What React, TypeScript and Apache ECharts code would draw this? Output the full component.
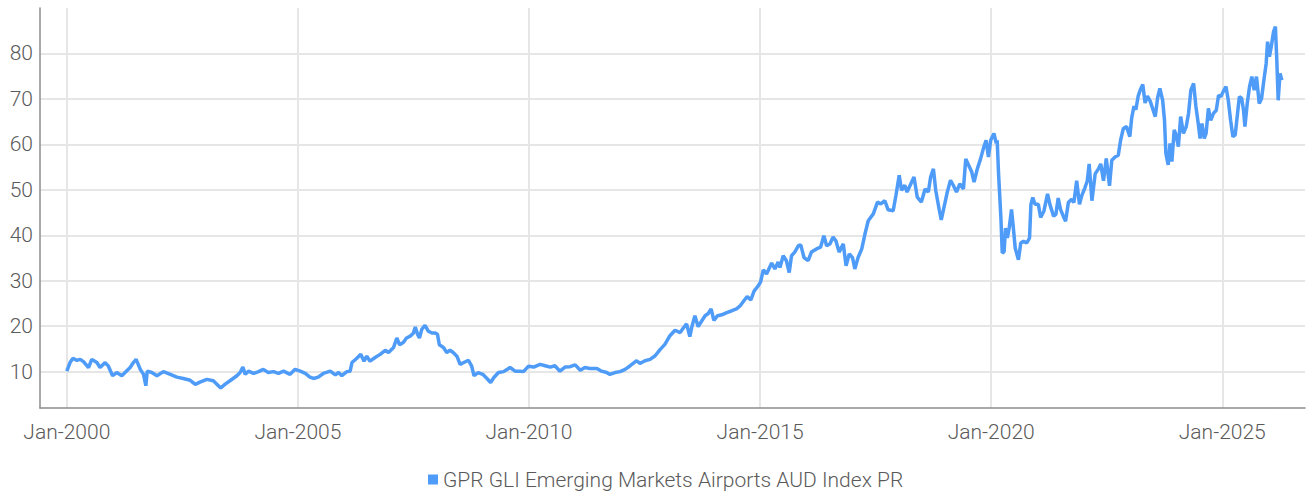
import { useEffect, useRef } from "react";
import * as echarts from "echarts";

const seriesName = "GPR GLI Emerging Markets Airports AUD Index PR";
const xTickYears = [2000, 2005, 2010, 2015, 2020, 2025];
const yTickValues = [10, 20, 30, 40, 50, 60, 70, 80];

// [decimal year, index value]
const period2000to2004 = [
  [2000.0, 10.1], [2000.07, 12.0], [2000.13, 12.9], [2000.22, 12.5], [2000.29, 12.7], [2000.36, 12.2],
  [2000.47, 10.9], [2000.54, 12.7], [2000.65, 12.0], [2000.72, 10.9], [2000.83, 12.0], [2000.9, 11.2],
  [2000.99, 9.1], [2001.08, 9.8], [2001.19, 9.1], [2001.26, 9.8], [2001.37, 10.9], [2001.44, 12.0],
  [2001.5, 12.7], [2001.59, 10.5], [2001.66, 9.4], [2001.71, 6.9], [2001.74, 10.1], [2001.84, 9.8],
  [2001.95, 9.1], [2002.09, 10.0], [2002.24, 9.4], [2002.38, 8.8], [2002.52, 8.5], [2002.67, 8.1],
  [2002.78, 7.2], [2002.88, 7.7], [2003.03, 8.3], [2003.17, 8.0], [2003.28, 6.9], [2003.33, 6.4],
  [2003.42, 7.2], [2003.53, 8.0], [2003.68, 9.1], [2003.75, 9.8], [2003.81, 11.0], [2003.86, 9.4],
  [2003.93, 10.1], [2004.04, 9.6], [2004.15, 10.0], [2004.25, 10.5], [2004.36, 9.8], [2004.47, 10.0],
  [2004.58, 9.6], [2004.69, 10.1], [2004.83, 9.4], [2004.94, 10.5],
];

const period2005to2009 = [
  [2005.05, 10.1], [2005.16, 9.6], [2005.26, 8.8], [2005.34, 8.5], [2005.44, 8.8], [2005.55, 9.6],
  [2005.7, 10.1], [2005.81, 9.3], [2005.88, 9.8], [2005.95, 9.1], [2006.06, 10.0], [2006.13, 10.1],
  [2006.17, 12.0], [2006.27, 12.9], [2006.36, 13.8], [2006.43, 12.3], [2006.49, 13.4], [2006.56, 12.3],
  [2006.67, 13.1], [2006.78, 13.8], [2006.89, 14.7], [2006.96, 14.2], [2007.07, 15.3], [2007.14, 17.4],
  [2007.2, 15.9], [2007.28, 16.4], [2007.35, 17.4], [2007.43, 17.8], [2007.5, 18.5], [2007.54, 19.8],
  [2007.59, 18.2], [2007.63, 17.4], [2007.68, 19.3], [2007.75, 20.2], [2007.82, 18.9], [2007.9, 18.5],
  [2007.97, 18.5], [2008.02, 18.2], [2008.06, 15.9], [2008.15, 15.3], [2008.22, 14.2], [2008.29, 14.7],
  [2008.36, 14.2], [2008.44, 13.4], [2008.51, 11.6], [2008.59, 12.0], [2008.69, 12.5], [2008.76, 11.2],
  [2008.81, 9.1], [2008.9, 9.8], [2009.0, 9.4], [2009.09, 8.5], [2009.17, 7.6], [2009.24, 8.7],
  [2009.34, 9.8], [2009.45, 10.0], [2009.59, 10.9], [2009.7, 10.1], [2009.81, 10.1], [2009.88, 10.0],
];

const period2010to2014 = [
  [2009.99, 11.2], [2010.1, 11.0], [2010.24, 11.6], [2010.35, 11.3], [2010.46, 11.0], [2010.56, 11.3],
  [2010.67, 10.1], [2010.78, 11.0], [2010.89, 11.1], [2011.0, 11.5], [2011.11, 10.3], [2011.21, 10.9],
  [2011.32, 10.7], [2011.47, 10.7], [2011.57, 10.1], [2011.68, 9.8], [2011.75, 9.4], [2011.86, 9.8],
  [2011.97, 10.0], [2012.08, 10.5], [2012.19, 11.3], [2012.33, 12.4], [2012.4, 11.8], [2012.51, 12.4],
  [2012.62, 12.7], [2012.73, 13.5], [2012.84, 14.9], [2012.94, 16.0], [2013.05, 17.9], [2013.16, 19.1],
  [2013.27, 18.6], [2013.34, 19.6], [2013.41, 20.5], [2013.48, 17.7], [2013.52, 19.7], [2013.59, 22.3],
  [2013.66, 19.9], [2013.74, 21.2], [2013.81, 22.3], [2013.88, 22.8], [2013.94, 23.8], [2014.0, 21.3],
  [2014.08, 22.3], [2014.17, 22.5], [2014.28, 23.0], [2014.39, 23.4], [2014.49, 23.8], [2014.57, 24.5],
  [2014.65, 25.6], [2014.72, 26.5], [2014.8, 25.8], [2014.87, 27.7], [2014.96, 28.9],
];

const period2015to2019 = [
  [2015.01, 29.7], [2015.07, 32.4], [2015.14, 31.5], [2015.25, 33.9], [2015.32, 32.6], [2015.39, 34.1],
  [2015.43, 32.9], [2015.5, 35.5], [2015.57, 34.4], [2015.63, 31.8], [2015.68, 35.5], [2015.75, 36.3],
  [2015.83, 37.7], [2015.88, 37.9], [2015.95, 35.1], [2016.04, 34.4], [2016.11, 36.3], [2016.22, 37.0],
  [2016.31, 37.4], [2016.38, 39.9], [2016.44, 37.7], [2016.51, 38.1], [2016.58, 39.6], [2016.64, 38.8],
  [2016.71, 36.3], [2016.8, 38.1], [2016.86, 33.3], [2016.93, 35.9], [2017.0, 35.1], [2017.05, 32.6],
  [2017.12, 35.1], [2017.2, 37.0], [2017.27, 40.3], [2017.34, 43.2], [2017.45, 44.7], [2017.54, 47.3],
  [2017.61, 46.9], [2017.7, 47.6], [2017.77, 45.6], [2017.88, 45.4], [2017.94, 48.8], [2018.01, 53.2],
  [2018.06, 49.9], [2018.13, 51.0], [2018.18, 49.5], [2018.26, 51.3], [2018.33, 52.8], [2018.4, 48.4],
  [2018.49, 47.3], [2018.57, 50.2], [2018.64, 49.5], [2018.69, 52.8], [2018.75, 54.6], [2018.8, 49.9],
  [2018.88, 45.4], [2018.92, 43.4], [2018.98, 46.2], [2019.05, 49.5], [2019.12, 52.1], [2019.18, 51.0],
  [2019.25, 49.5], [2019.32, 51.3], [2019.4, 50.2], [2019.45, 56.8], [2019.53, 55.0], [2019.58, 53.9],
  [2019.63, 51.7], [2019.7, 54.6], [2019.77, 56.8], [2019.84, 59.4], [2019.89, 60.9], [2019.94, 57.2],
  [2019.99, 60.9],
];

const period2020to2023 = [
  [2020.06, 62.4], [2020.11, 60.2], [2020.13, 60.9], [2020.16, 53.5], [2020.21, 43.9], [2020.24, 36.1],
  [2020.28, 36.4], [2020.31, 41.6], [2020.35, 39.4], [2020.39, 41.6], [2020.44, 45.7], [2020.48, 41.6],
  [2020.52, 37.2], [2020.59, 34.6], [2020.64, 38.3], [2020.7, 38.7], [2020.77, 38.3], [2020.83, 39.4],
  [2020.86, 46.8], [2020.9, 48.3], [2020.95, 46.8], [2021.02, 46.8], [2021.07, 43.9], [2021.14, 45.3],
  [2021.22, 49.1], [2021.27, 46.8], [2021.35, 44.2], [2021.4, 44.6], [2021.45, 48.2], [2021.5, 45.7],
  [2021.56, 44.2], [2021.61, 43.1], [2021.67, 47.2], [2021.74, 47.9], [2021.79, 47.2], [2021.85, 52.0],
  [2021.91, 46.8], [2021.96, 48.7], [2022.03, 50.5], [2022.08, 52.0], [2022.12, 55.7], [2022.18, 47.6],
  [2022.25, 53.5], [2022.32, 54.6], [2022.37, 55.7], [2022.43, 52.0], [2022.49, 56.9], [2022.56, 50.9],
  [2022.61, 56.5], [2022.68, 57.2], [2022.75, 57.6], [2022.8, 60.9], [2022.86, 63.5], [2022.93, 63.9],
  [2023.0, 61.7], [2023.04, 65.8], [2023.09, 68.4], [2023.13, 67.6], [2023.18, 70.6], [2023.23, 72.1],
  [2023.28, 73.2], [2023.33, 69.1], [2023.38, 70.6], [2023.44, 69.5], [2023.49, 68.0], [2023.55, 66.1],
  [2023.6, 70.2],
];

const period2023to2026 = [
  [2023.65, 72.3], [2023.71, 69.7], [2023.75, 65.3], [2023.78, 58.0], [2023.83, 55.5], [2023.87, 60.2],
  [2023.91, 56.2], [2023.96, 63.2], [2024.0, 62.1], [2024.05, 59.5], [2024.1, 66.1], [2024.16, 62.4],
  [2024.22, 63.9], [2024.27, 66.8], [2024.32, 71.9], [2024.38, 73.4], [2024.43, 68.3], [2024.48, 64.6],
  [2024.52, 61.3], [2024.56, 64.6], [2024.61, 61.3], [2024.65, 62.4], [2024.7, 67.9], [2024.75, 65.3],
  [2024.81, 66.8], [2024.87, 67.5], [2024.92, 70.8], [2024.97, 70.5], [2025.02, 71.6], [2025.08, 72.7],
  [2025.13, 69.7], [2025.18, 65.3], [2025.23, 61.7], [2025.28, 62.1], [2025.33, 66.8], [2025.37, 70.5],
  [2025.42, 70.1], [2025.46, 67.5], [2025.49, 63.9], [2025.54, 69.0], [2025.59, 72.7], [2025.64, 74.9],
  [2025.69, 71.9], [2025.74, 74.9], [2025.8, 69.0], [2025.85, 70.1], [2025.9, 74.1], [2025.95, 77.8],
  [2025.98, 82.6], [2026.02, 79.3], [2026.06, 81.5], [2026.11, 84.8], [2026.15, 85.9], [2026.18, 78.5],
  [2026.21, 69.7], [2026.25, 75.6], [2026.29, 74.1],
];

const FONT = "Roboto";
const TEXT_COLOR = "#5a5a5a";
const LINE_COLOR = "#4e9bf8";

export default function App() {
  const ref = useRef<HTMLDivElement>(null);

  useEffect(() => {
    if (!ref.current) return;
    const chart = echarts.init(ref.current, null, { renderer: "svg" });
    const data = [
      ...period2000to2004,
      ...period2005to2009,
      ...period2010to2014,
      ...period2015to2019,
      ...period2020to2023,
      ...period2023to2026,
    ];
    chart.setOption({
      animation: false,
      grid: { left: 40, right: 1, top: 8, bottom: 85, containLabel: false, outerBoundsMode: "none" },
      legend: {
        show: true,
        left: 423,
        top: 464,
        icon: "rect",
        itemWidth: 10,
        itemHeight: 10,
        textStyle: { fontSize: 21, fontWeight: 300, color: TEXT_COLOR, fontFamily: FONT },
        data: [seriesName],
      },
      xAxis: {
        type: "value",
        min: 1999.42,
        max: 2026.79,
        axisLine: { show: true, onZero: false, lineStyle: { color: "#8c8c8c", width: 1.5 } },
        axisTick: { show: false, customValues: xTickYears },
        axisLabel: {
          customValues: xTickYears,
          formatter: (v: number) => "Jan-" + Math.round(v),
          fontSize: 21,
          fontWeight: 300,
          color: TEXT_COLOR,
          fontFamily: FONT,
          margin: 13,
        },
        splitLine: { show: true, lineStyle: { color: "#e6e6e6", width: 2 } },
      },
      yAxis: {
        type: "value",
        min: 2,
        max: 90,
        axisLine: { show: true, onZero: false, lineStyle: { color: "#8c8c8c", width: 1.5 } },
        axisTick: { show: false, customValues: yTickValues },
        axisLabel: {
          customValues: yTickValues,
          fontSize: 21,
          fontWeight: 300,
          color: TEXT_COLOR,
          fontFamily: FONT,
          margin: 7,
        },
        splitLine: { show: true, lineStyle: { color: "#e6e6e6", width: 2 } },
      },
      series: [
        {
          name: seriesName,
          type: "line",
          data,
          showSymbol: false,
          symbol: "none",
          lineStyle: { width: 3.5, color: LINE_COLOR },
          itemStyle: { color: LINE_COLOR },
        },
      ],
    });
    return () => chart.dispose();
  }, []);

  return (
    <div
      ref={ref}
      style={{ position: "absolute", left: 0, top: 0, width: 1306, height: 493 }}
    />
  );
}
